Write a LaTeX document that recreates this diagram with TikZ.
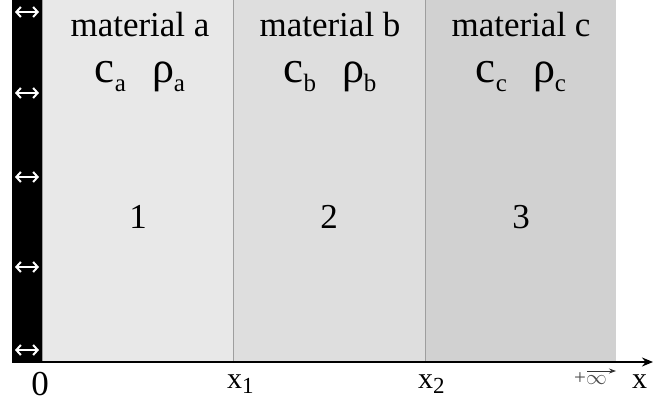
\documentclass[tikz,border=0pt]{standalone}
\usepackage{fontspec}
\setmainfont{Liberation Serif}
\usetikzlibrary{arrows.meta}
\tikzset{
  mat/.style={anchor=base, inner sep=0pt, font=\fontsize{35}{35}\selectfont},
  num/.style={anchor=base, inner sep=0pt, font=\fontsize{35}{35}\selectfont},
  axlbl/.style={anchor=base west, inner sep=0pt, font=\fontsize{30}{30}\selectfont},
  wallarrow/.style={white, line width=2pt, {Straight Barb[length=4.5pt,width=10pt]}-{Straight Barb[length=4.5pt,width=10pt]}},
  divider/.style={draw=black!38, line width=1pt},
}
\newcommand{\prop}[2]{{\fontsize{45}{45}\selectfont c}{\fontsize{25}{25}\selectfont\raisebox{-9pt}{#1}}\hspace{26pt}{\fontsize{44}{44}\selectfont ρ}{\fontsize{25}{25}\selectfont\raisebox{-9pt}{#2}}}
\begin{document}
\begin{tikzpicture}[x=1pt,y=-1pt]
\useasboundingbox (0,0) rectangle (653,403);
% regions
\fill[black] (12,0) rectangle (42,362);
\fill[black!9] (42,0) rectangle (233,362);
\fill[black!13] (233,0) rectangle (425,362);
\fill[black!18] (425,0) rectangle (616,362);
\draw[divider] (42,0) -- (42,362);
\draw[divider] (233,0) -- (233,362);
\draw[divider] (425,0) -- (425,362);
% wall arrows
\foreach \y/\n in {12/w1,93/w2,177/w3,267/w4,350/w5}{
  \coordinate (\n l) at (15,\y);
  \coordinate (\n r) at (39,\y);
  \draw[wallarrow] (\n l) -- (\n r);
}
% axis
\coordinate (ax0) at (12,362);
\coordinate (axend) at (653,362);
\draw[line width=1.8pt, -{Stealth[length=11pt,width=9pt]}] (ax0) -- (axend);
% material labels
\node[mat] (ma) at (140,37) {material a};
\node[mat] (mb) at (330,37) {material b};
\node[mat] (mc) at (521,37) {material c};
\node[anchor=base, inner sep=0pt] (pa) at (140,83) {\prop{a}{a}};
\node[anchor=base, inner sep=0pt] (pb) at (330,83) {\prop{b}{b}};
\node[anchor=base, inner sep=0pt] (pc) at (521,83) {\prop{c}{c}};
% region numbers
\node[num] (n1) at (138,229) {1};
\node[num] (n2) at (329,229) {2};
\node[num] (n3) at (521,229) {3};
% axis labels
\node[num] (z) at (40,395) {0};
\node[axlbl] (x1) at (227,388) {x{\fontsize{23}{23}\selectfont\raisebox{-5pt}{1}}};
\node[axlbl] (x2) at (418,388) {x{\fontsize{23}{23}\selectfont\raisebox{-5pt}{2}}};
\node[anchor=base west, inner sep=0pt, text=black!70, font=\fontsize{21}{21}\selectfont] (inf) at (574,384) {+$\infty$};
\coordinate (infa) at (587,371);
\coordinate (infb) at (616,371);
\draw[black!80, line width=0.8pt, -{Stealth[length=7pt,width=5pt]}] (infa) -- (infb);
\node[axlbl] (xx) at (632,388) {x};
\end{tikzpicture}
\end{document}
